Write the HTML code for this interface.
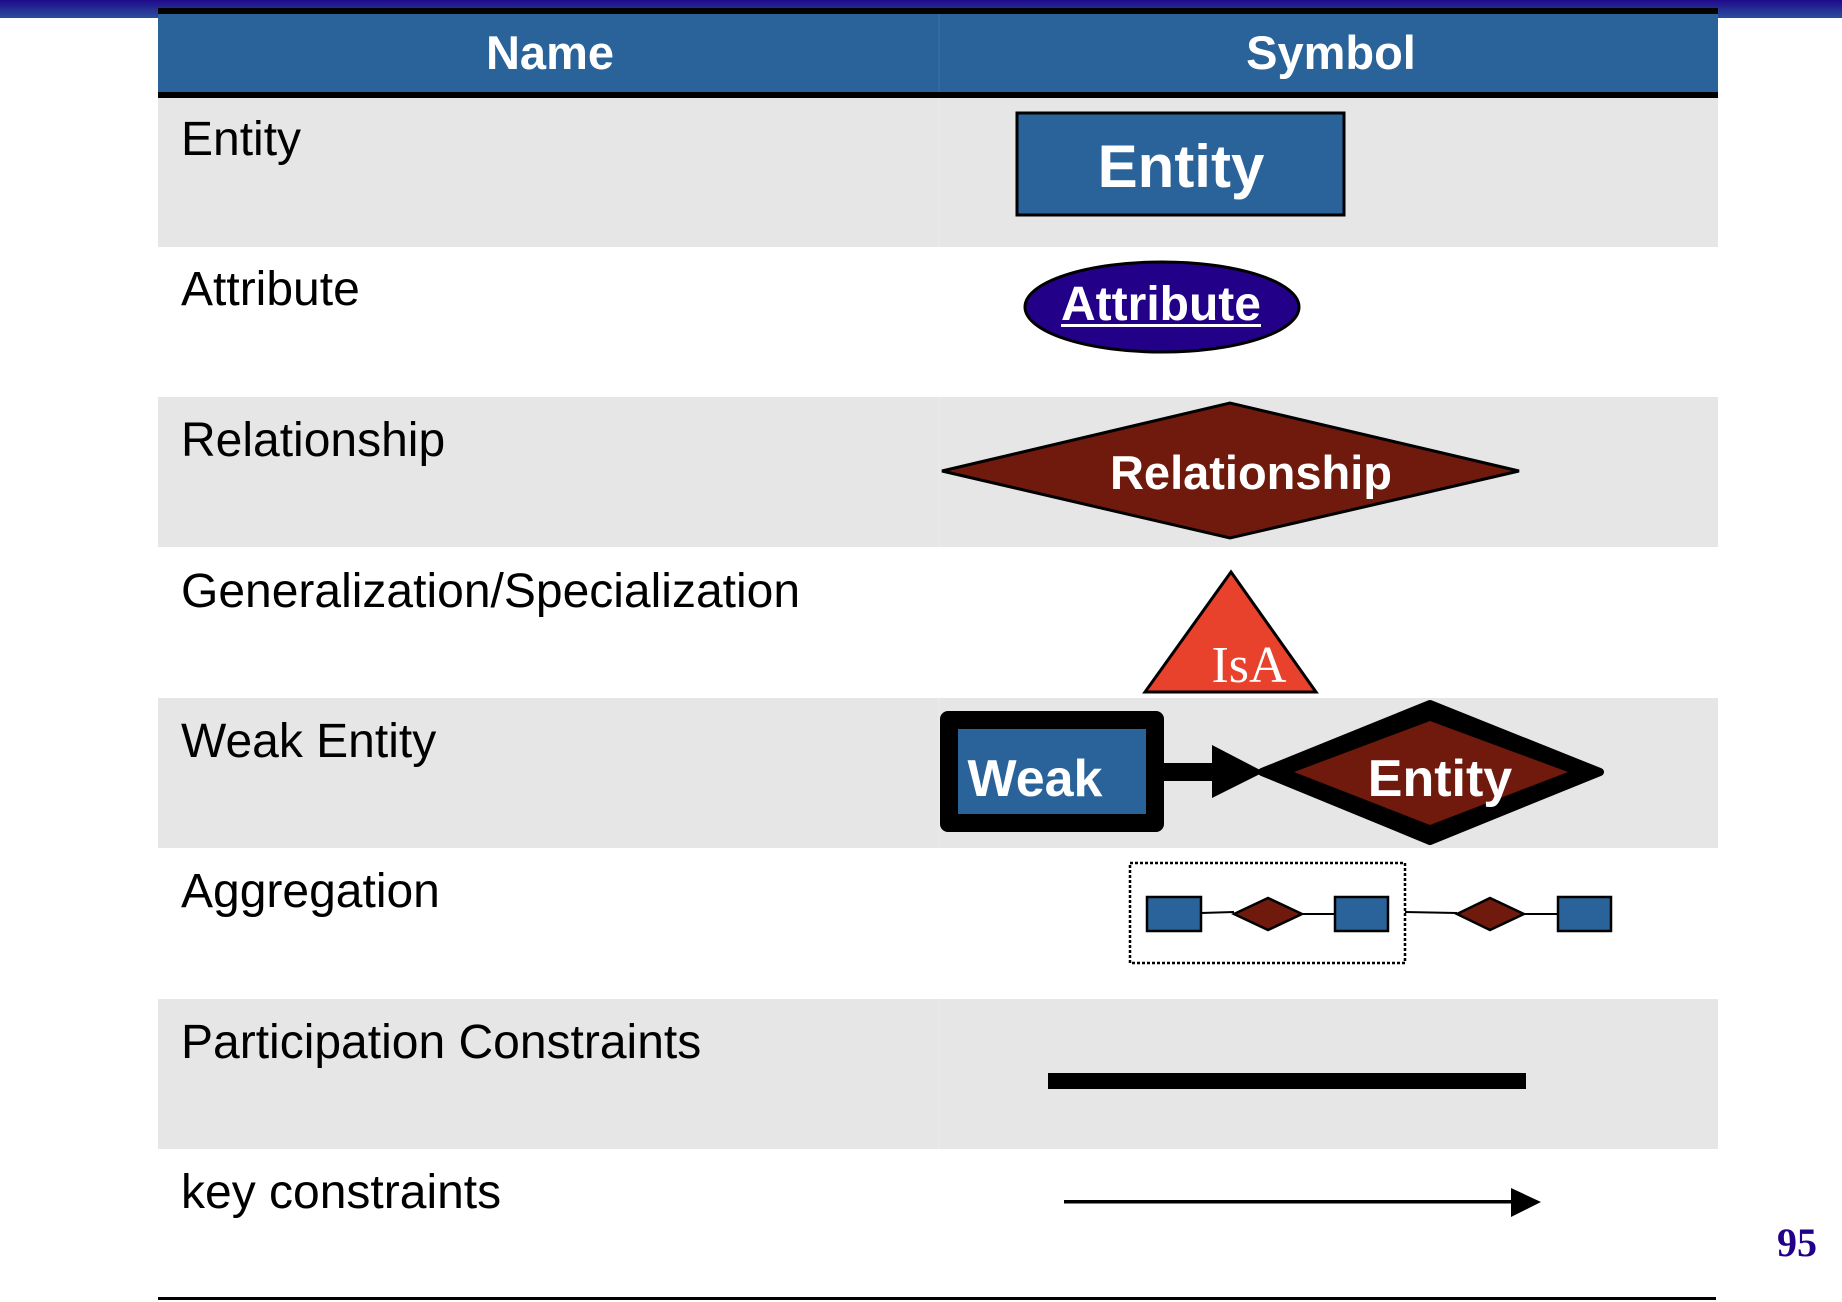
<!DOCTYPE html>
<html><head><meta charset="utf-8"><style>
html,body{margin:0;padding:0;background:#fff;}
svg{display:block;}
</style></head><body>
<svg width="1842" height="1302" viewBox="0 0 1842 1302" xmlns="http://www.w3.org/2000/svg">
<defs>
<linearGradient id="tb" x1="0" y1="0" x2="0" y2="1">
<stop offset="0" stop-color="#1f0a8c"/><stop offset="1" stop-color="#2a509c"/>
</linearGradient>
</defs>
<rect x="0" y="0" width="1842" height="18" fill="url(#tb)"/>
<!-- header -->
<rect x="158" y="8" width="1560" height="6" fill="#000"/>
<rect x="158" y="14" width="1560" height="78" fill="#2a6399"/>
<rect x="158" y="92" width="1560" height="6" fill="#000"/>
<line x1="939" y1="14" x2="939" y2="92" stroke="#3a73a9" stroke-width="1"/>
<g font-family="Liberation Sans, Arial, sans-serif" font-weight="bold" fill="#fff" font-size="47" text-anchor="middle">
<text x="550" y="69">Name</text>
<text x="1331" y="69">Symbol</text>
</g>
<!-- rows -->
<rect x="158" y="98" width="1560" height="149" fill="#e6e6e6"/>
<rect x="158" y="397" width="1560" height="150" fill="#e6e6e6"/>
<rect x="158" y="698" width="1560" height="150" fill="#e6e6e6"/>
<rect x="158" y="999" width="1560" height="150" fill="#e6e6e6"/>
<g stroke="#ececec" stroke-width="1">
<line x1="939" y1="98" x2="939" y2="247"/>
<line x1="939" y1="397" x2="939" y2="547"/>
<line x1="939" y1="698" x2="939" y2="848"/>
<line x1="939" y1="999" x2="939" y2="1149"/>
</g>
<rect x="158" y="1297" width="1558" height="3" fill="#000"/>
<g font-family="Liberation Sans, Arial, sans-serif" font-size="48" fill="#000">
<text x="181" y="155">Entity</text>
<text x="181" y="305">Attribute</text>
<text x="181" y="456">Relationship</text>
<text x="181" y="607">Generalization/Specialization</text>
<text x="181" y="757">Weak Entity</text>
<text x="181" y="907">Aggregation</text>
<text x="181" y="1058">Participation Constraints</text>
<text x="181" y="1208">key constraints</text>
</g>
<!-- entity -->
<rect x="1017" y="113" width="327" height="102" fill="#2a6399" stroke="#000" stroke-width="3"/>
<text x="1181" y="187" font-family="Liberation Sans, Arial, sans-serif" font-weight="bold" font-size="60" fill="#fff" text-anchor="middle">Entity</text>
<!-- attribute -->
<ellipse cx="1162" cy="307" rx="137" ry="45" fill="#220088" stroke="#000" stroke-width="3"/>
<text x="1161" y="320" font-family="Liberation Sans, Arial, sans-serif" font-weight="bold" font-size="48" fill="#fff" text-anchor="middle">Attribute</text>
<rect x="1061" y="324" width="200" height="3" fill="#fff"/>
<!-- relationship -->
<polygon points="942,471 1230,403 1519,471 1230,538" fill="#701a0e" stroke="#000" stroke-width="3"/>
<text x="1251" y="489" font-family="Liberation Sans, Arial, sans-serif" font-weight="bold" font-size="47" fill="#fff" text-anchor="middle">Relationship</text>
<!-- isa -->
<polygon points="1231,572 1145,692 1316,692" fill="#e8412c" stroke="#000" stroke-width="3"/>
<text x="1249" y="682" font-family="Liberation Serif, Times New Roman, serif" font-size="52" fill="#fff" text-anchor="middle">IsA</text>
<!-- weak entity -->
<rect x="940" y="711" width="224" height="121" rx="8" fill="#000"/>
<rect x="958" y="729" width="188" height="85" fill="#2a6399"/>
<rect x="1164" y="763" width="50" height="18" fill="#000"/>
<polygon points="1212,745 1264,772 1212,798" fill="#000"/>
<polygon points="1262,772 1430,704 1600,772 1430,841" fill="#000" stroke="#000" stroke-width="8" stroke-linejoin="round"/>
<polygon points="1294,772 1430,721 1568,772 1430,825" fill="#701a0e"/>
<text x="1035" y="796" font-family="Liberation Sans, Arial, sans-serif" font-weight="bold" font-size="52" fill="#fff" text-anchor="middle">Weak</text>
<text x="1440" y="796" font-family="Liberation Sans, Arial, sans-serif" font-weight="bold" font-size="52" fill="#fff" text-anchor="middle">Entity</text>
<!-- aggregation -->
<rect x="1130" y="863" width="275" height="100" fill="none" stroke="#000" stroke-width="2.5" stroke-dasharray="3,2"/>
<g stroke="#000" stroke-width="2">
<line x1="1201" y1="913" x2="1234" y2="912"/>
<line x1="1302" y1="914" x2="1335" y2="914"/>
<line x1="1405" y1="912" x2="1457" y2="913"/>
<line x1="1524" y1="914" x2="1558" y2="914"/>
</g>
<g fill="#2a6399" stroke="#000" stroke-width="2.5">
<rect x="1147" y="897" width="54" height="34"/>
<rect x="1335" y="897" width="53" height="34"/>
<rect x="1558" y="897" width="53" height="34"/>
</g>
<g fill="#701a0e" stroke="#000" stroke-width="2.5">
<polygon points="1234,914 1268,898 1302,914 1268,930"/>
<polygon points="1457,914 1490,898 1524,914 1490,930"/>
</g>
<!-- participation -->
<rect x="1048" y="1073" width="478" height="16" fill="#000"/>
<!-- key -->
<rect x="1064" y="1200" width="449" height="3.5" fill="#000"/>
<polygon points="1511,1188 1541,1202 1511,1217" fill="#000"/>
<text x="1797" y="1256" font-family="Liberation Serif, Times New Roman, serif" font-weight="bold" font-size="40" fill="#220088" text-anchor="middle">95</text>
</svg>
</body></html>
